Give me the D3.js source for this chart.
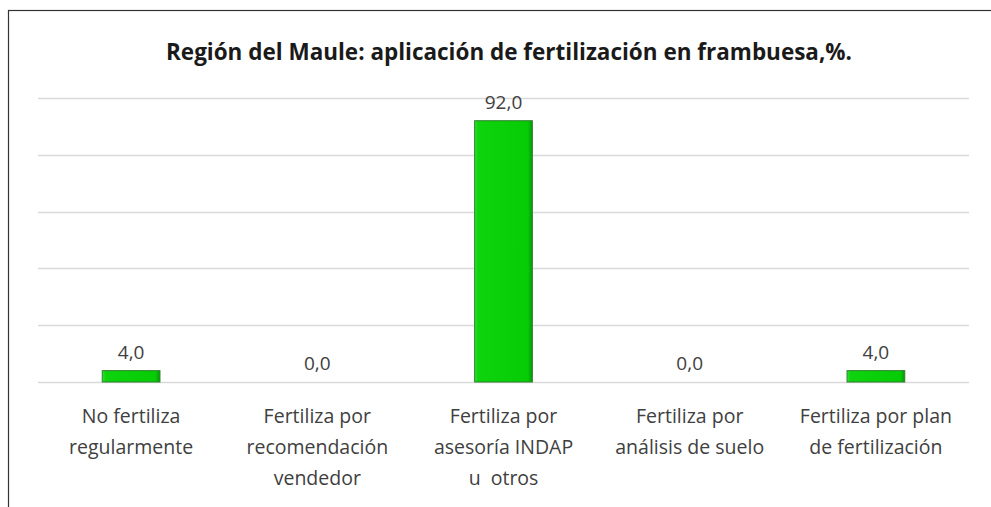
<!DOCTYPE html>
<meta charset="utf-8">
<style>
body { margin: 0; background: #fff; }
text { font-family: 'Open Sans', 'DejaVu Sans', sans-serif; fill: #404040; }
.title { font-weight: bold; fill: #1a1a1a; }
.grid line { stroke: #d9d9d9; stroke-width: 1.5; }
</style>
<body>
<svg width="991" height="507"></svg>
<script src="https://cdn.jsdelivr.net/npm/d3@7"></script>
<script>
// data
var categories = [
  ["No fertiliza", "regularmente"],
  ["Fertiliza por", "recomendación", "vendedor"],
  ["Fertiliza por", "asesoría INDAP", "u  otros"],
  ["Fertiliza por", "análisis de suelo"],
  ["Fertiliza por plan", "de fertilización"]
];
var values = [4.0, 0.0, 92.0, 0.0, 4.0];
var yTicks = [0, 20, 40, 60, 80, 100];
var title = "Región del Maule: aplicación de fertilización en frambuesa,%.";

var svg = d3.select("svg"),
    width = +svg.attr("width"),
    height = +svg.attr("height");

var margin = {left: 38, right: 22, top: 98, bottom: 125};

// outer frame, only top and left edges visible
svg.append("rect")
    .attr("x", 8.5).attr("y", 10.5)
    .attr("width", 1200).attr("height", 800)
    .attr("fill", "none")
    .attr("stroke", "#333")
    .attr("stroke-width", 1.2);

var x = d3.scaleBand()
    .domain(d3.range(values.length))
    .range([margin.left, width - margin.right])
    .paddingInner(0.69)
    .paddingOuter(0.345);

var y = d3.scaleLinear()
    .domain([0, 100])
    .range([height - margin.bottom, margin.top]);

// gridlines
svg.append("g")
    .attr("class", "grid")
  .selectAll("line")
  .data(yTicks)
  .enter().append("line")
    .attr("x1", margin.left)
    .attr("x2", width - margin.right)
    .attr("y1", function(d) { return Math.round(y(d)) + 0.5; })
    .attr("y2", function(d) { return Math.round(y(d)) + 0.5; });

// bar gradient for a little bevel
var defs = svg.append("defs");
var grad = defs.append("linearGradient")
    .attr("id", "barGrad")
    .attr("x1", "0").attr("x2", "1").attr("y1", "0").attr("y2", "0");
grad.append("stop").attr("offset", "0").attr("stop-color", "#33e033");
grad.append("stop").attr("offset", "0.06").attr("stop-color", "#0dd40d");
grad.append("stop").attr("offset", "0.92").attr("stop-color", "#06cc06");
grad.append("stop").attr("offset", "1").attr("stop-color", "#049a04");

svg.append("g")
  .selectAll("rect")
  .data(values)
  .enter().append("rect")
    .attr("x", function(d, i) { return x(i); })
    .attr("y", function(d) { return y(d); })
    .attr("width", x.bandwidth())
    .attr("height", function(d) { return y(0) - y(d); })
    .attr("fill", "url(#barGrad)")
    .attr("stroke", "#2f7f2f")
    .attr("stroke-width", function(d) { return d > 0 ? 1 : 0; });

// value labels
svg.append("g")
  .selectAll("text")
  .data(values)
  .enter().append("text")
    .attr("x", function(d, i) { return x(i) + x.bandwidth() / 2; })
    .attr("y", function(d) { return y(d) - 12; })
    .attr("text-anchor", "middle")
    .style("font-size", "19px")
    .text(function(d) { return d3.format(".1f")(d).replace(".", ","); });

// category labels
var cat = svg.append("g")
  .selectAll("text")
  .data(categories)
  .enter().append("text")
    .attr("text-anchor", "middle")
    .style("font-size", "19.5px")
    .attr("transform", function(d, i) {
      return "translate(" + (x(i) + x.bandwidth() / 2) + "," + 423 + ")";
    });

cat.selectAll("tspan")
  .data(function(d) { return d; })
  .enter().append("tspan")
    .attr("x", 0)
    .attr("y", function(d, j) { return j * 31; })
    .style("white-space", "pre")
    .text(function(d) { return d; });

// title
svg.append("text")
    .attr("class", "title")
    .attr("x", 509)
    .attr("y", 60)
    .attr("text-anchor", "middle")
    .attr("textLength", 686)
    .attr("lengthAdjust", "spacingAndGlyphs")
    .style("font-size", "22.5px")
    .text(title);
</script>
</body>
